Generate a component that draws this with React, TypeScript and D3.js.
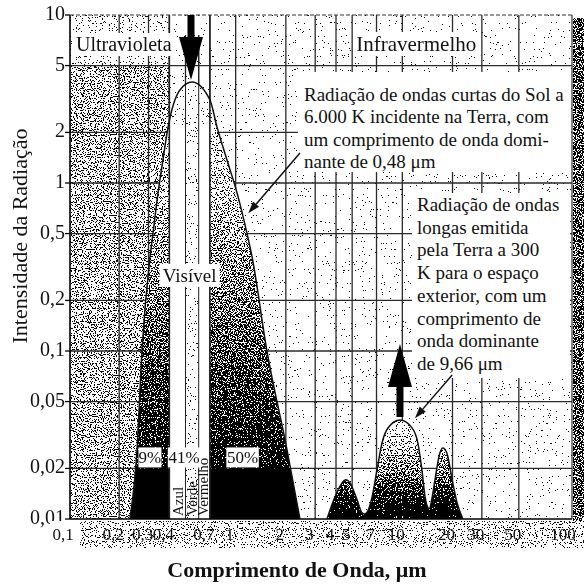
import { useEffect, useRef } from 'react'
import * as d3 from 'd3'

// Solar spectrum (~6000 K): wavelength (µm) and relative intensity
const sunWave = [0.232, 0.256, 0.274, 0.306, 0.319, 0.342, 0.366, 0.393, 0.463, 0.547, 0.701, 0.773, 0.887, 1.02, 1.17, 1.25, 1.54, 2.03, 2.43]
const sunIntensity = [0.01, 0.026, 0.1, 0.36, 0.5, 0.87, 1.37, 2.15, 3.58, 3.99, 3.12, 2.15, 1.37, 0.87, 0.5, 0.37, 0.1, 0.026, 0.01]

// Terrestrial spectrum (~300 K)
const earthWave = [3.53, 3.94, 4.35, 4.59, 4.85, 5.35, 5.73, 5.97, 6.58, 7.05, 7.55, 8.2, 9.68, 11.4, 12.4, 13.1, 13.7, 14.5, 15.1, 15.7, 16.8, 17.5, 18.5, 19.9, 21.3, 23.1]
const earthIntensity = [0.01, 0.0135, 0.0164, 0.0171, 0.0164, 0.013, 0.0109, 0.0107, 0.0135, 0.0196, 0.0283, 0.0348, 0.0388, 0.035, 0.0283, 0.0196, 0.0135, 0.0115, 0.0135, 0.0171, 0.0247, 0.0265, 0.0247, 0.0171, 0.0125, 0.01]

// visible band
const visNames = ['Azul', 'Verde', 'Vermelho']
const visFrom = [0.4, 0.5, 0.6]
const visTo = [0.5, 0.6, 0.7]
const visTop = 2.2
const visLabelValue = 0.28

const pctLabels = ['9%', '41%', '50%']
const pctWave = [0.306, 0.49, 1.1]

const yTicks = [10, 5, 2, 1, 0.5, 0.2, 0.1, 0.05, 0.02, 0.01]
const yGrid = [5, 2, 1, 0.5, 0.2, 0.1, 0.05, 0.02]
const xTicks = [0.1, 0.2, 0.3, 0.4, 0.7, 1, 2, 3, 4, 5, 7, 10, 20, 30, 50, 100]
const xGrid = [0.2, 0.3, 0.4, 0.5, 0.6, 0.7, 1, 2, 3, 4, 5, 7, 10, 20, 30, 50]

const sunNote = ['Radiação de ondas curtas do Sol a', '6.000 K incidente na Terra, com', 'um comprimento de onda domi-', 'nante de 0,48 μm']
const earthNote = ['Radiação de ondas', 'longas emitida', 'pela Terra a 300', 'K para o espaço', 'exterior, com um', 'comprimento de', 'onda dominante', 'de 9,66 μm']

// pointer arrows: [wavelength, intensity] from -> to
const sunPointer = [[2.43, 1.51], [1.19, 0.66]]
const earthPointer = [[19.9, 0.072], [11.9, 0.0398]]

const FONT = "'Liberation Serif', 'DejaVu Serif', serif"
const fmt = (v: number) => String(v).replace('.', ',')

export default function App() {
  const svgRef = useRef<SVGSVGElement>(null)

  useEffect(() => {
    if (!svgRef.current) return
    document.body.style.margin = '0'

    const width = 584
    const height = 587
    const left = 70, right = 572, top = 15, bottom = 519

    const svg = d3.select(svgRef.current).attr('width', width).attr('height', height)
    svg.selectAll('*').remove()
    svg.append('rect').attr('width', width).attr('height', height).attr('fill', '#fff')

    const x = d3.scaleLog().domain([0.1, 100]).range([69, 569])
    const y = d3.scaleLog().domain([0.01, 10]).range([bottom, top])
    const gray = (l: number) => d3.rgb(l * 255, l * 255, l * 255).formatHex()

    const defs = svg.append('defs')

    // stipple: noise thresholded against the fill lightness
    const K = 2
    const f = defs.append('filter').attr('id', 'stip')
      .attr('filterUnits', 'userSpaceOnUse').attr('x', 0).attr('y', 0)
      .attr('width', width).attr('height', height)
      .attr('color-interpolation-filters', 'sRGB')
    f.append('feTurbulence').attr('type', 'fractalNoise').attr('baseFrequency', 0.85)
      .attr('numOctaves', 1).attr('seed', 7).attr('result', 'noise')
    f.append('feColorMatrix').attr('in', 'noise').attr('type', 'matrix')
      .attr('values', '1 0 0 0 0  1 0 0 0 0  1 0 0 0 0  0 0 0 0 1').attr('result', 'g')
    f.append('feComposite').attr('in', 'SourceGraphic').attr('in2', 'g')
      .attr('operator', 'arithmetic').attr('k1', 0).attr('k2', 1).attr('k3', K).attr('k4', -K / 2)
      .attr('result', 'sum')
    const ct = f.append('feComponentTransfer').attr('in', 'sum').attr('result', 'thr')
    ;['feFuncR', 'feFuncG', 'feFuncB'].forEach(fn => ct.append(fn).attr('type', 'discrete').attr('tableValues', '0 1'))
    ct.append('feFuncA').attr('type', 'linear').attr('slope', 0).attr('intercept', 1)
    f.append('feComposite').attr('in', 'thr').attr('in2', 'SourceAlpha').attr('operator', 'in')

    const wedge = defs.append('linearGradient').attr('id', 'wedge')
      .attr('gradientUnits', 'userSpaceOnUse').attr('x1', 0).attr('x2', 0).attr('y1', 60).attr('y2', y(0.02))
    wedge.append('stop').attr('offset', 0).attr('stop-color', gray(0.82))
    wedge.append('stop').attr('offset', 0.5).attr('stop-color', gray(0.55))
    wedge.append('stop').attr('offset', 1).attr('stop-color', gray(0.22))

    const hump = defs.append('linearGradient').attr('id', 'hump')
      .attr('gradientUnits', 'userSpaceOnUse').attr('x1', 0).attr('x2', 0).attr('y1', y(0.04)).attr('y2', bottom)
    hump.append('stop').attr('offset', 0).attr('stop-color', gray(0.84))
    hump.append('stop').attr('offset', 0.6).attr('stop-color', gray(0.45))
    hump.append('stop').attr('offset', 1).attr('stop-color', gray(0.05))

    const sunPts = sunWave.map((w, i) => [w, sunIntensity[i]])
    const earthPts = earthWave.map((w, i) => [w, earthIntensity[i]])
    const area = d3.area<number[]>().x(d => x(d[0])).y0(bottom).y1(d => y(d[1])).curve(d3.curveMonotoneX)
    const line = d3.line<number[]>().x(d => x(d[0])).y(d => y(d[1])).curve(d3.curveMonotoneX)

    defs.append('clipPath').attr('id', 'sunClip').append('path').attr('d', area(sunPts))

    // background stipple
    const bg = svg.append('g').attr('filter', 'url(#stip)')
    bg.append('rect').attr('x', left).attr('y', top).attr('width', right - left).attr('height', bottom - top).attr('fill', gray(0.91))
    bg.append('rect').attr('x', left).attr('y', y(5)).attr('width', x(0.4) - left).attr('height', bottom - y(5)).attr('fill', gray(0.62))
    bg.append('rect').attr('x', left).attr('y', top).attr('width', x(0.4) - left).attr('height', y(5) - top).attr('fill', gray(0.8))
    bg.append('rect').attr('x', right + 1).attr('y', 18).attr('width', width - right).attr('height', 530).attr('fill', gray(0.42))
    bg.append('rect').attr('x', 80).attr('y', bottom + 2).attr('width', width - 80).attr('height', 27).attr('fill', gray(0.72))

    // grid
    const grid = svg.append('g').attr('stroke', '#2a2a2a').attr('stroke-width', 1.3)
    grid.selectAll('.hg').data(yGrid).enter().append('line')
      .attr('x1', left).attr('x2', right).attr('y1', d => y(d)).attr('y2', d => y(d))
    grid.selectAll('.vg').data(xGrid).enter().append('line')
      .attr('x1', d => x(d)).attr('x2', d => x(d)).attr('y1', top).attr('y2', bottom)

    // stippled fills of the two spectra
    const fills = svg.append('g').attr('filter', 'url(#stip)')
    const sunG = fills.append('g').attr('clip-path', 'url(#sunClip)')
    sunG.append('rect').attr('x', left).attr('y', top).attr('width', right - left).attr('height', bottom - top).attr('fill', gray(0.86))
    sunG.append('rect').attr('x', left).attr('y', top).attr('width', x(0.4) - left).attr('height', bottom - top).attr('fill', 'url(#wedge)')
    sunG.append('rect').attr('x', x(0.7)).attr('y', top).attr('width', right - x(0.7)).attr('height', bottom - top).attr('fill', 'url(#wedge)')
    fills.append('path').attr('d', area(earthPts)).attr('fill', 'url(#hump)')

    // solid parts inside the solar curve
    const solid = svg.append('g').attr('clip-path', 'url(#sunClip)')
    solid.selectAll('.wcol').data([0, 2]).enter().append('rect')
      .attr('x', i => x(visFrom[i])).attr('width', i => x(visTo[i]) - x(visFrom[i]))
      .attr('y', y(visTop)).attr('height', bottom - y(visTop)).attr('fill', '#fff')
    solid.append('rect').attr('x', left).attr('y', y(0.02)).attr('width', x(0.4) - left).attr('height', bottom - y(0.02)).attr('fill', '#000')
    solid.append('rect').attr('x', x(0.7)).attr('y', y(0.02)).attr('width', right - x(0.7)).attr('height', bottom - y(0.02)).attr('fill', '#000')

    // band boundaries over the visible strip
    svg.append('g').selectAll('line').data([0.4, 0.5, 0.6, 0.7]).enter().append('line')
      .attr('x1', d => x(d)).attr('x2', d => x(d)).attr('y1', top).attr('y2', bottom)
      .attr('stroke', '#222').attr('stroke-width', (d, i) => (i === 0 || i === 3 ? 1.6 : 1))

    // curve outlines
    svg.append('path').attr('d', line(sunPts)).attr('fill', 'none').attr('stroke', '#111').attr('stroke-width', 1.5)
    svg.append('path').attr('d', line(earthPts)).attr('fill', 'none').attr('stroke', '#111').attr('stroke-width', 1.5)

    // frame
    svg.append('line').attr('x1', left).attr('x2', left).attr('y1', top).attr('y2', bottom).attr('stroke', '#000').attr('stroke-width', 1.6)
    svg.append('line').attr('x1', left).attr('x2', right).attr('y1', bottom).attr('y2', bottom).attr('stroke', '#000').attr('stroke-width', 1.6)
    svg.append('line').attr('x1', left).attr('x2', right).attr('y1', top).attr('y2', top).attr('stroke', '#333').attr('stroke-width', 1.2).attr('stroke-dasharray', '4,2')
    svg.append('line').attr('x1', right).attr('x2', right).attr('y1', top).attr('y2', bottom).attr('stroke', '#333').attr('stroke-width', 1.2)

    // y axis
    const ya = svg.append('g').style('font-family', FONT)
    ya.selectAll('.yt').data(yTicks).enter().append('line')
      .attr('x1', left - 5).attr('x2', left).attr('y1', d => y(d)).attr('y2', d => y(d)).attr('stroke', '#000').attr('stroke-width', 1.3)
    ya.selectAll('.yl').data(yTicks).enter().append('text')
      .attr('x', left - 5).attr('y', d => y(d) + 5).attr('text-anchor', 'end')
      .style('font-size', '20px').attr('fill', '#111').text(d => fmt(d))

    // x tick labels
    svg.append('rect').attr('x', 50).attr('y', bottom + 2).attr('width', 30).attr('height', 27).attr('fill', '#fff')
    svg.append('g').style('font-family', FONT).selectAll('text').data(xTicks).enter().append('text')
      .attr('x', d => x(d) - 6).attr('y', bottom + 21).attr('text-anchor', 'middle')
      .style('font-size', '17px').attr('fill', '#111').text(d => fmt(d))

    // titles
    svg.append('text').attr('x', 297).attr('y', 577).attr('text-anchor', 'middle')
      .style('font-family', FONT).style('font-size', '22px').style('font-weight', 'bold').attr('fill', '#111')
      .text('Comprimento de Onda, μm')
    svg.append('text').attr('transform', 'translate(27,236) rotate(-90)').attr('text-anchor', 'middle')
      .style('font-family', FONT).style('font-size', '22px').attr('fill', '#111')
      .text('Intensidade da Radiação')

    // region labels
    const box = (bx: number, by: number, bw: number, bh: number) =>
      svg.append('rect').attr('x', bx).attr('y', by).attr('width', bw).attr('height', bh).attr('fill', '#fff')
    const label = (t: string, tx: number, ty: number, size: number, anchor = 'start') =>
      svg.append('text').attr('x', tx).attr('y', ty).attr('text-anchor', anchor)
        .style('font-family', FONT).style('font-size', `${size}px`).attr('fill', '#111').text(t)

    box(left + 2, 33, 104, 23)
    label('Ultravioleta', left + 6, 51, 20)
    box(x(5) + 1, 32, x(30) - x(5) - 2, 24)
    label('Infravermelho', x(5) + 4, 51, 21)

    const vcx = (x(0.4) + x(0.7)) / 2
    box(vcx - 30, y(visLabelValue) - 12, 60, 23)
    label('Visível', vcx, y(visLabelValue) + 6, 19, 'middle')

    pctLabels.forEach((t, i) => {
      const w = t.length * 9.5 + 4
      box(x(pctWave[i]) - w / 2, y(0.02) - 21, w, 20)
      label(t, x(pctWave[i]), y(0.02) - 5, 17, 'middle')
    })

    visNames.forEach((t, i) => {
      svg.append('text').attr('transform', `translate(${x(visTo[i]) - 2},${bottom - 3}) rotate(-90)`)
        .style('font-family', FONT).style('font-size', '15px').attr('fill', '#111').text(t)
    })

    // notes
    box(298, 72, 273, 100)
    sunNote.forEach((t, i) => label(t, 304, 101 + i * 22.3, 19))
    box(412, 193, 158, 185)
    earthNote.forEach((t, i) => label(t, 417, 211 + i * 22.7, 19))

    // thick arrows at both maxima
    const sunPeak = sunPts.reduce((a, b) => (b[1] > a[1] ? b : a))
    const earthPeak = earthPts.reduce((a, b) => (b[1] > a[1] ? b : a))
    const sx = x(sunPeak[0]) - 1, sTip = y(sunPeak[1]) - 2
    svg.append('rect').attr('x', sx - 9).attr('y', top + 1).attr('width', 18).attr('height', sTip - top - 46).attr('fill', '#fff')
    svg.append('polygon').attr('fill', '#000').attr('points', [
      [sx - 3.5, top], [sx + 3.5, top], [sx + 3.5, sTip - 43], [sx + 12, sTip - 43], [sx, sTip],
      [sx - 12, sTip - 43], [sx - 3.5, sTip - 43]].map(p => p.join(',')).join(' '))
    const ex = x(earthPeak[0]), eBase = y(earthPeak[1]) - 3, eTip = eBase - 73
    svg.append('polygon').attr('fill', '#000').attr('points', [
      [ex - 3.5, eBase], [ex + 3.5, eBase], [ex + 3.5, eTip + 43], [ex + 12, eTip + 43], [ex, eTip],
      [ex - 12, eTip + 43], [ex - 3.5, eTip + 43]].map(p => p.join(',')).join(' '))

    // pointer arrows
    ;[sunPointer, earthPointer].forEach(p => {
      const x1 = x(p[0][0]), y1 = y(p[0][1]), x2 = x(p[1][0]), y2 = y(p[1][1])
      const a = Math.atan2(y2 - y1, x2 - x1)
      const len = 12, half = 4
      const bx = x2 - len * Math.cos(a), by = y2 - len * Math.sin(a)
      svg.append('line').attr('x1', x1).attr('y1', y1).attr('x2', bx).attr('y2', by).attr('stroke', '#111').attr('stroke-width', 1.5)
      svg.append('polygon').attr('fill', '#111').attr('points', [
        [x2, y2], [bx - Math.sin(a) * half, by + Math.cos(a) * half], [bx + Math.sin(a) * half, by - Math.cos(a) * half]
      ].map(q => q.join(',')).join(' '))
    })
  }, [])

  return <svg ref={svgRef} style={{ display: 'block' }}></svg>
}
